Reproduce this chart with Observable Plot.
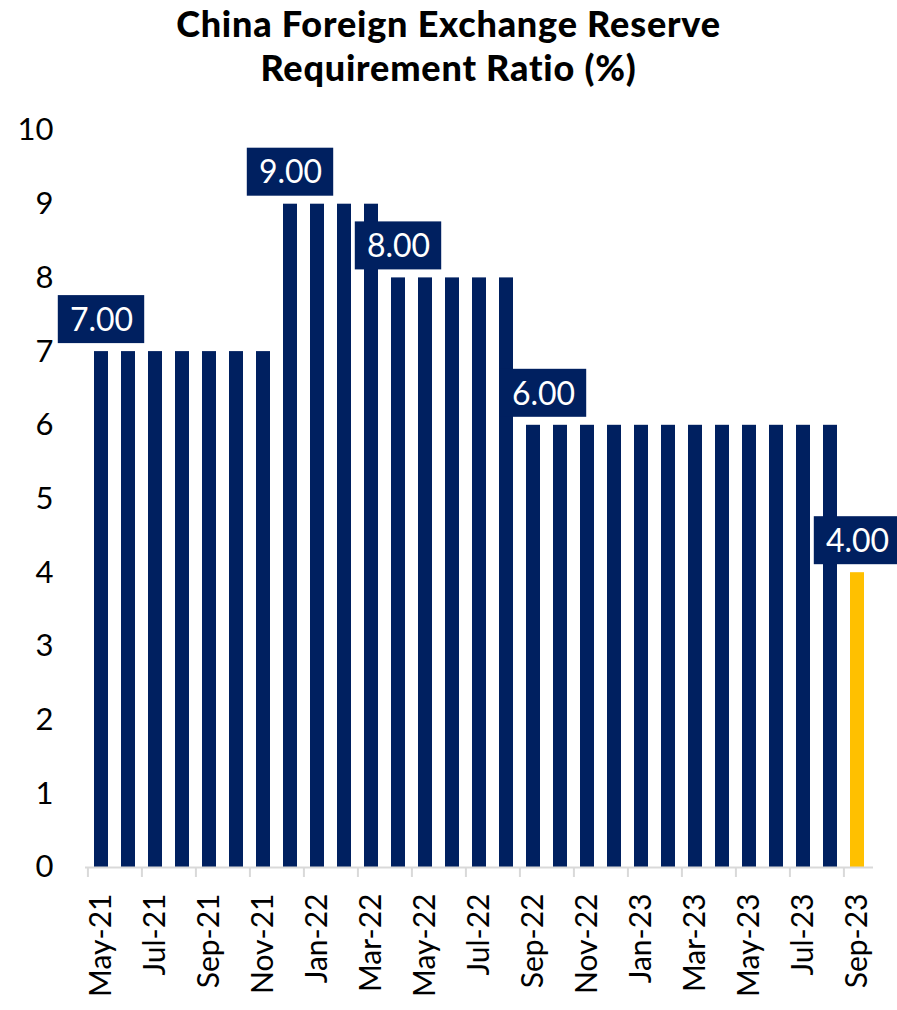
<!DOCTYPE html>
<html>
<head>
<meta charset="utf-8">
<script src="https://cdn.jsdelivr.net/npm/d3@7"></script>
<script src="https://cdn.jsdelivr.net/npm/@observablehq/plot@0.6"></script>
<style>
  html, body { margin: 0; padding: 0; background: #fff; }
  #wrap { width: 897px; font-family: Lato, "Noto Sans", sans-serif; }
  #title { height: 110px; box-sizing: border-box; padding-top: 1px; text-align: center;
           font-size: 36px; line-height: 44px; font-weight: 900; color: #000; letter-spacing: 0.8px; }
</style>
</head>
<body>
<div id="wrap">
  <div id="title">China Foreign Exchange Reserve<br>Requirement Ratio (%)</div>
  <div id="chart"></div>
</div>
<script>
const months = ["May-21","Jun-21","Jul-21","Aug-21","Sep-21","Oct-21","Nov-21","Dec-21",
  "Jan-22","Feb-22","Mar-22","Apr-22","May-22","Jun-22","Jul-22","Aug-22","Sep-22","Oct-22",
  "Nov-22","Dec-22","Jan-23","Feb-23","Mar-23","Apr-23","May-23","Jun-23","Jul-23","Aug-23","Sep-23"];
const ratios = [7,7,7,7,7,7,7,9,9,9,9,8,8,8,8,8,6,6,6,6,6,6,6,6,6,6,6,6,4];
const labelMonths = ["May-21","Dec-21","Apr-22","Sep-22","Sep-23"];
const labelValues = [7,9,8,6,4];
const tickMonths = ["May-21","Jul-21","Sep-21","Nov-21","Jan-22","Mar-22","May-22","Jul-22",
  "Sep-22","Nov-22","Jan-23","Mar-23","May-23","Jul-23","Sep-23"];
const yTicks = [0,1,2,3,4,5,6,7,8,9,10];

const NAVY = "#002060", GOLD = "#FFC000";
const data = months.map((m, i) => ({month: m, value: ratios[i]}));
const labels = labelMonths.map((m, i) => ({month: m, value: labelValues[i]}));
const labelsMain = labels.filter(d => d.month !== "Sep-22");
const labelsShift = labels.filter(d => d.month === "Sep-22");

const W = 897, H = 900, ML = 85, MR = 24;
const step = (W - ML - MR) / 29;
const bw = step * 0.5;
const boxW = 86;
const boxInset = -(boxW - bw) / 2;

function labelMarks(arr, dx) {
  return [
    Plot.barY(arr, {x: "month", y1: "value", y2: "value", fill: NAVY,
      insetTop: -56, insetBottom: 8, insetLeft: boxInset, insetRight: boxInset, dx}),
    Plot.text(arr, {x: "month", y: "value", text: d => d.value.toFixed(2), fill: "#fff",
      fontSize: 32, dy: -31, dx, textAnchor: "middle", lineAnchor: "middle"})
  ];
}

const chart = Plot.plot({
  width: W, height: H,
  marginLeft: ML, marginRight: MR, marginTop: 20, marginBottom: 143,
  style: {fontFamily: 'Lato, "Noto Sans", sans-serif', background: "#fff", overflow: "visible"},
  x: {domain: months, paddingInner: 0.5, paddingOuter: 0.25, axis: null, label: null},
  y: {domain: [0, 10], axis: null, label: null},
  marks: [
    Plot.barY(data, {x: "month", y: "value", fill: d => d.month === "Sep-23" ? GOLD : NAVY}),
    Plot.ruleY([0], {stroke: "#d9d9d9", strokeWidth: 2}),
    Plot.axisX({ticks: tickMonths, tickSize: 10, dx: -step / 2, text: null, label: null, stroke: "#d9d9d9", strokeWidth: 2}),
    Plot.axisX({ticks: tickMonths, tickSize: 0, tickPadding: 26, tickRotate: -90, fontSize: 30, fill: "#000", label: null}),
    Plot.axisY({ticks: yTicks, tickSize: 0, tickPadding: 32, fontSize: 31, fill: "#000", label: null, tickFormat: d => String(d)}),
    ...labelMarks(labelsMain, 0),
    ...labelMarks(labelsShift, 10)
  ]
});
document.getElementById("chart").appendChild(chart);
</script>
</body>
</html>
